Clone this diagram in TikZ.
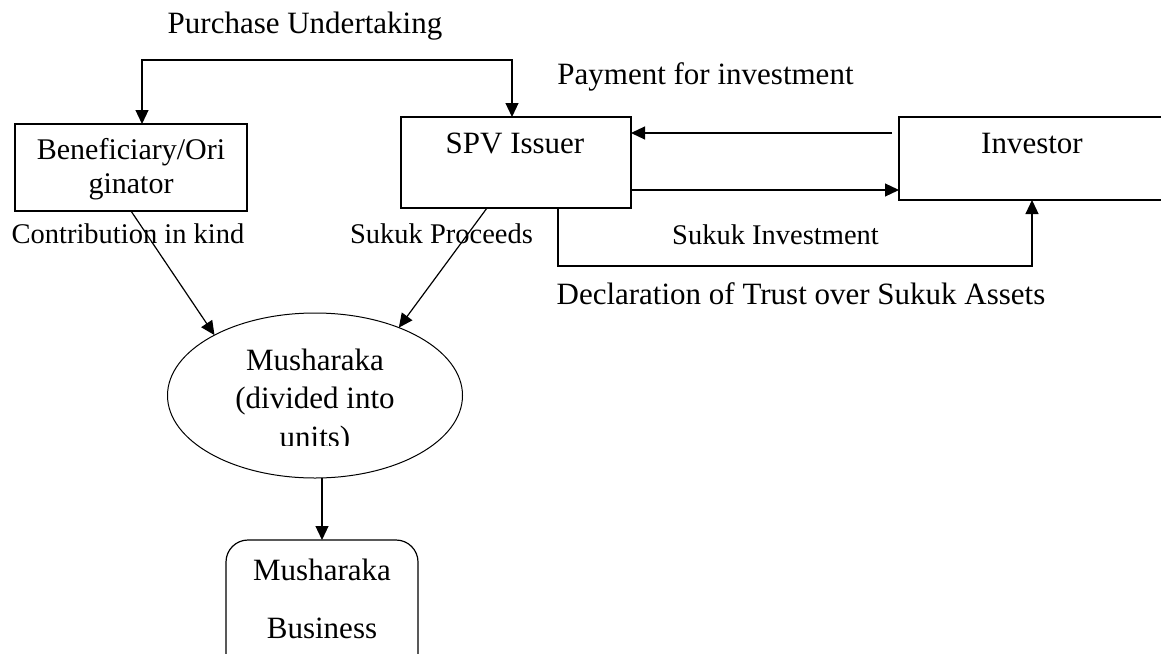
\documentclass[tikz,border=0pt]{standalone}
\usepackage{fontspec}
\setmainfont{Liberation Serif}
\usetikzlibrary{arrows.meta,shapes.geometric}
\begin{document}
\begin{tikzpicture}[x=1pt,y=-1pt,line width=1.2pt,
    box/.style={draw,rectangle,inner sep=0pt,outer sep=0pt},
    arr/.style={-{Triangle[length=14pt,width=13pt]}},
    dblarr/.style={{Triangle[length=14pt,width=13pt]}-{Triangle[length=14pt,width=13pt]}},
    bigtxt/.style={inner sep=0pt,anchor=base,font=\fontsize{31}{34}\selectfont},
    midtxt/.style={inner sep=0pt,anchor=base,font=\fontsize{30}{34}\selectfont},
    smalltxt/.style={inner sep=0pt,anchor=base,font=\fontsize{28.5}{32}\selectfont}]
	\clip (0,0) rectangle (1161,653);
	\node[box,minimum width=232pt,minimum height=87pt] (benef) at (131,167.5) {};
	\node[box,minimum width=230pt,minimum height=91pt] (spv) at (516,162.5) {};
	\node[box,minimum width=266pt,minimum height=83pt] (inv) at (1032,158.5) {};
	\node[draw,ellipse,inner sep=0pt,outer sep=0pt,line width=1pt,minimum width=295pt,minimum height=165pt] (musha) at (315,395.5) {};
	\node[box,rounded corners=22pt,minimum width=192pt,minimum height=140pt] (busbox) at (322,610) {};
	\coordinate (pul) at (142,60);
	\coordinate (pur) at (512,60);
	\coordinate (payin) at (892,133);
	\coordinate (sukin) at (760,190);
	\draw[dblarr] (pul |- benef.north) -- (pul) -- (pur) -- (pur |- spv.north);
	\draw[arr] (payin) -- (spv.east |- payin);
	\draw[arr] (spv.east |- sukin) -- (inv.west |- sukin);
	\draw[arr] ([xshift=42pt]spv.south) -- ++(0,58) -| (inv.south);
	\draw[arr] (benef.south) -- (musha.149);
	\draw[arr] ([xshift=-29pt]spv.south) -- (musha.39);
	\draw[arr] (musha.south -| busbox.north) -- (busbox.north);
	\node[midtxt] (beneftxta) at (131,159) {Beneficiary/Ori};
	\node[midtxt] (beneftxtb) at (131,193) {ginator};
	\node[bigtxt] (spvtxt) at (515,153) {SPV Issuer};
	\node[bigtxt] (invtxt) at (1032,153) {Investor};
	\node[bigtxt] (purtxt) at (305,33) {Purchase Undertaking};
	\node[bigtxt] (paytxt) at (705.5,84) {Payment for investment};
	\node[smalltxt] (contxt) at (128,243) {Contribution in kind};
	\node[smalltxt] (proctxt) at (441.5,243) {Sukuk Proceeds};
	\node[smalltxt] (sukinvtxt) at (775.5,244) {Sukuk Investment};
	\node[bigtxt] (decltxt) at (801,304) {Declaration of Trust over Sukuk Assets};
	\begin{scope}
		\clip (160,300) rectangle (480,445);
		\node[bigtxt] (mushtxta) at (315,370) {Musharaka};
		\node[bigtxt] (mushtxtb) at (315,408) {(divided into};
		\node[bigtxt] (mushtxtc) at (315,447) {units)};
	\end{scope}
	\node[bigtxt] (bustxta) at (322,580) {Musharaka};
	\node[bigtxt] (bustxtb) at (322,638) {Business};
\end{tikzpicture}
\end{document}
